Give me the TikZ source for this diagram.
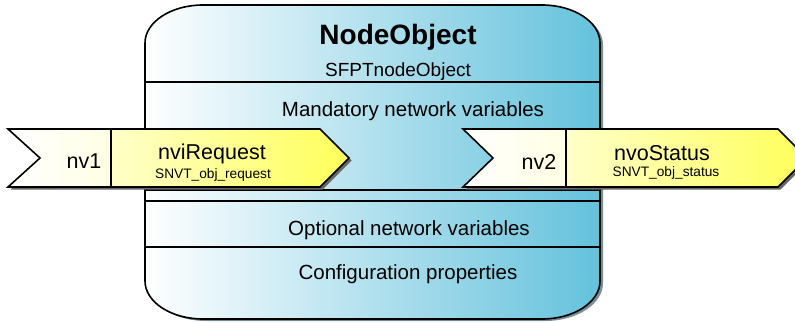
\documentclass[tikz,border=0pt]{standalone}
\usepackage{fontspec}
\setmainfont{Liberation Sans}
\definecolor{boxR}{RGB}{100,194,220}
\definecolor{boxM}{RGB}{182,228,240}
\definecolor{boxShadow}{RGB}{120,140,150}
\definecolor{ylw}{RGB}{255,255,90}
\definecolor{ylwpale}{RGB}{255,255,200}
\definecolor{ylwlight}{RGB}{255,255,228}
\tikzset{
  outline/.style={draw=black, line width=1.6pt, line join=miter},
  divider/.style={draw=black, line width=1.2pt},
  arrowshadow/.style={fill=black!60},
  txt/.style={anchor=base, inner sep=0pt, text=black},
  title/.style={txt, font=\fontsize{28}{32}\selectfont\bfseries},
  sub/.style={txt, font=\fontsize{19}{22}\selectfont},
  section/.style={txt, font=\fontsize{20.5}{24}\selectfont},
  nvname/.style={txt, font=\fontsize{21.5}{25}\selectfont},
  nvtype/.style={txt, font=\fontsize{13.7}{16}\selectfont},
}
\begin{document}
\begin{tikzpicture}[x=1pt,y=1pt]
\useasboundingbox (0,0) rectangle (795,322);
\clip (0,0) rectangle (795,322);

% box shadow
\begin{scope}[shift={(3,-2)}]
\fill[boxShadow] (203,317) -- (542,317) arc[start angle=90,end angle=0,x radius=58,y radius=38]
  -- (600,41) arc[start angle=0,end angle=-90,x radius=58,y radius=38]
  -- (203,3) arc[start angle=270,end angle=180,x radius=58,y radius=38]
  -- (145,279) arc[start angle=180,end angle=90,x radius=58,y radius=38] -- cycle;
\end{scope}
% box
\path[left color=white, middle color=boxM, right color=boxR, draw=black, line width=1.6pt]
  (203,317) -- (542,317) arc[start angle=90,end angle=0,x radius=58,y radius=38]
  -- (600,41) arc[start angle=0,end angle=-90,x radius=58,y radius=38]
  -- (203,3) arc[start angle=270,end angle=180,x radius=58,y radius=38]
  -- (145,279) arc[start angle=180,end angle=90,x radius=58,y radius=38] -- cycle;

% compartment lines
\coordinate (d1l) at (145,240); \coordinate (d1r) at (600,240);
\coordinate (d2l) at (145,132); \coordinate (d2r) at (600,132);
\coordinate (d3l) at (145,121); \coordinate (d3r) at (600,121);
\coordinate (d4l) at (145,75);  \coordinate (d4r) at (600,75);
\draw[divider] (d1l) -- (d1r);
\draw[divider] (d2l) -- (d2r);
\draw[divider] (d3l) -- (d3r);
\draw[divider] (d4l) -- (d4r);

% box texts
\node[title]   (nodeobj) at (398,277) {NodeObject};
\node[sub]     (sfpt)    at (398,245) {SFPTnodeObject};
\node[section] (mand)    at (413,206) {Mandatory network variables};
\node[section] (opt)     at (409,87)  {Optional network variables};
\node[section] (cfg)     at (408,43)  {Configuration properties};

% left arrow
\fill[arrowshadow, shift={(2.5,-2.5)}] (8,193) -- (320,193) -- (349,164) -- (320,135) -- (8,135) -- (40,164) -- cycle;
\path[left color=white, right color=ylwlight, outline] (8,193) -- (111,193) -- (111,135) -- (8,135) -- (40,164) -- cycle;
\path[left color=ylwpale, right color=ylw, outline] (111,193) -- (320,193) -- (349,164) -- (320,135) -- (111,135) -- cycle;
\node[nvname] (nv1) at (84,154) {nv1};
\node[nvname] (nvireq) at (212,163) {nviRequest};
\node[nvtype] (snvtreq) at (213,144) {SNVT\_obj\_request};

% right arrow
\fill[arrowshadow, shift={(2.5,-2.5)}] (463,193) -- (778,193) -- (807,164) -- (778,135) -- (463,135) -- (493,164) -- cycle;
\path[left color=white, right color=ylwlight, outline] (463,193) -- (566,193) -- (566,135) -- (463,135) -- (493,164) -- cycle;
\path[left color=ylwpale, right color=ylw, outline] (566,193) -- (778,193) -- (807,164) -- (778,135) -- (566,135) -- cycle;
\node[nvname] (nv2) at (539,153) {nv2};
\node[nvname] (nvostat) at (662,162) {nvoStatus};
\node[nvtype] (snvtstat) at (666,146) {SNVT\_obj\_status};
\end{tikzpicture}
\end{document}
